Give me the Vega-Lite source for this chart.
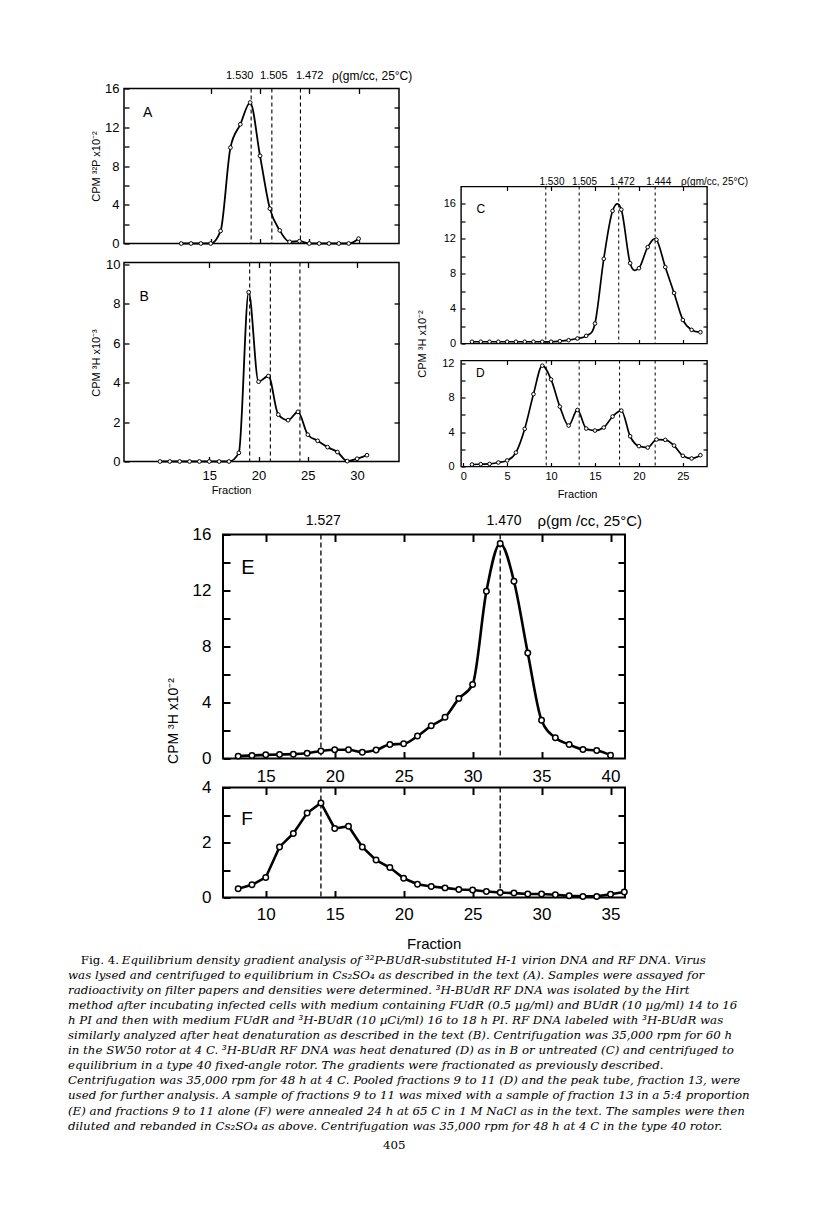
{
  "$schema": "https://vega.github.io/schema/vega-lite/v6.json",
  "autosize": {"type": "pad"},
  "padding": {"left": 68, "top": 68.5, "right": 5, "bottom": 5},
  "background": "white",
  "datasets": {
    "A": [
      {"fraction": 12, "cpm": 0}, {"fraction": 13, "cpm": 0}, {"fraction": 14, "cpm": 0}, {"fraction": 15, "cpm": 0},
      {"fraction": 16, "cpm": 1.3}, {"fraction": 17, "cpm": 9.9}, {"fraction": 18, "cpm": 12.3}, {"fraction": 19, "cpm": 14.55},
      {"fraction": 20, "cpm": 9.05}, {"fraction": 21, "cpm": 3.6}, {"fraction": 22, "cpm": 1.35}, {"fraction": 23, "cpm": 0.17},
      {"fraction": 24, "cpm": 0.24}, {"fraction": 25, "cpm": 0}, {"fraction": 26, "cpm": 0}, {"fraction": 27, "cpm": 0},
      {"fraction": 28, "cpm": 0}, {"fraction": 29, "cpm": 0}, {"fraction": 30, "cpm": 0.5}
    ],
    "B": [
      {"fraction": 10, "cpm": 0}, {"fraction": 11, "cpm": 0}, {"fraction": 12, "cpm": 0}, {"fraction": 13, "cpm": 0},
      {"fraction": 14, "cpm": 0}, {"fraction": 15, "cpm": 0}, {"fraction": 16, "cpm": 0}, {"fraction": 17, "cpm": 0},
      {"fraction": 18, "cpm": 0.44}, {"fraction": 19, "cpm": 8.59}, {"fraction": 20, "cpm": 4.05}, {"fraction": 21, "cpm": 4.34},
      {"fraction": 22, "cpm": 2.38}, {"fraction": 23, "cpm": 2.1}, {"fraction": 24, "cpm": 2.52}, {"fraction": 25, "cpm": 1.36},
      {"fraction": 26, "cpm": 1.05}, {"fraction": 27, "cpm": 0.73}, {"fraction": 28, "cpm": 0.48}, {"fraction": 29, "cpm": 0.02},
      {"fraction": 30, "cpm": 0.14}, {"fraction": 31, "cpm": 0.32}
    ],
    "C": [
      {"fraction": 1, "cpm": 0.2}, {"fraction": 2, "cpm": 0.2}, {"fraction": 3, "cpm": 0.2}, {"fraction": 4, "cpm": 0.2},
      {"fraction": 5, "cpm": 0.2}, {"fraction": 6, "cpm": 0.2}, {"fraction": 7, "cpm": 0.2}, {"fraction": 8, "cpm": 0.2},
      {"fraction": 9, "cpm": 0.2}, {"fraction": 10, "cpm": 0.2}, {"fraction": 11, "cpm": 0.27}, {"fraction": 12, "cpm": 0.38},
      {"fraction": 13, "cpm": 0.57}, {"fraction": 14, "cpm": 0.88}, {"fraction": 15, "cpm": 2.29}, {"fraction": 16, "cpm": 9.71},
      {"fraction": 17, "cpm": 15.2}, {"fraction": 18, "cpm": 15.35}, {"fraction": 19, "cpm": 9.2}, {"fraction": 20, "cpm": 8.63},
      {"fraction": 21, "cpm": 11.05}, {"fraction": 22, "cpm": 11.9}, {"fraction": 23, "cpm": 8.76}, {"fraction": 24, "cpm": 5.79},
      {"fraction": 25, "cpm": 2.7}, {"fraction": 26, "cpm": 1.56}, {"fraction": 27, "cpm": 1.3}
    ],
    "D": [
      {"fraction": 1, "cpm": 0.23}, {"fraction": 2, "cpm": 0.27}, {"fraction": 3, "cpm": 0.3}, {"fraction": 4, "cpm": 0.46},
      {"fraction": 5, "cpm": 0.7}, {"fraction": 6, "cpm": 1.62}, {"fraction": 7, "cpm": 4.36}, {"fraction": 8, "cpm": 8.4},
      {"fraction": 9, "cpm": 11.7}, {"fraction": 10, "cpm": 10.1}, {"fraction": 11, "cpm": 6.95}, {"fraction": 12, "cpm": 4.75},
      {"fraction": 13, "cpm": 6.56}, {"fraction": 14, "cpm": 4.4}, {"fraction": 15, "cpm": 4.17}, {"fraction": 16, "cpm": 4.52},
      {"fraction": 17, "cpm": 5.8}, {"fraction": 18, "cpm": 6.49}, {"fraction": 19, "cpm": 3.51}, {"fraction": 20, "cpm": 2.36},
      {"fraction": 21, "cpm": 2.2}, {"fraction": 22, "cpm": 3.13}, {"fraction": 23, "cpm": 3.09}, {"fraction": 24, "cpm": 2.43},
      {"fraction": 25, "cpm": 1.24}, {"fraction": 26, "cpm": 0.93}, {"fraction": 27, "cpm": 1.31}
    ],
    "E": [
      {"fraction": 13, "cpm": 0.17}, {"fraction": 14, "cpm": 0.22}, {"fraction": 15, "cpm": 0.26}, {"fraction": 16, "cpm": 0.29},
      {"fraction": 17, "cpm": 0.31}, {"fraction": 18, "cpm": 0.38}, {"fraction": 19, "cpm": 0.53}, {"fraction": 20, "cpm": 0.62},
      {"fraction": 21, "cpm": 0.62}, {"fraction": 22, "cpm": 0.45}, {"fraction": 23, "cpm": 0.6}, {"fraction": 24, "cpm": 1.0},
      {"fraction": 25, "cpm": 1.05}, {"fraction": 26, "cpm": 1.6}, {"fraction": 27, "cpm": 2.34}, {"fraction": 28, "cpm": 2.94},
      {"fraction": 29, "cpm": 4.28}, {"fraction": 30, "cpm": 5.29}, {"fraction": 31, "cpm": 11.94}, {"fraction": 32, "cpm": 15.36},
      {"fraction": 33, "cpm": 12.66}, {"fraction": 34, "cpm": 7.54}, {"fraction": 35, "cpm": 2.73}, {"fraction": 36, "cpm": 1.48},
      {"fraction": 37, "cpm": 1.0}, {"fraction": 38, "cpm": 0.65}, {"fraction": 39, "cpm": 0.57}, {"fraction": 40, "cpm": 0.24}
    ],
    "F": [
      {"fraction": 8, "cpm": 0.32}, {"fraction": 9, "cpm": 0.46}, {"fraction": 10, "cpm": 0.73}, {"fraction": 11, "cpm": 1.84},
      {"fraction": 12, "cpm": 2.33}, {"fraction": 13, "cpm": 3.07}, {"fraction": 14, "cpm": 3.44}, {"fraction": 15, "cpm": 2.51},
      {"fraction": 16, "cpm": 2.59}, {"fraction": 17, "cpm": 1.84}, {"fraction": 18, "cpm": 1.36}, {"fraction": 19, "cpm": 1.09},
      {"fraction": 20, "cpm": 0.7}, {"fraction": 21, "cpm": 0.48}, {"fraction": 22, "cpm": 0.4}, {"fraction": 23, "cpm": 0.35},
      {"fraction": 24, "cpm": 0.29}, {"fraction": 25, "cpm": 0.27}, {"fraction": 26, "cpm": 0.22}, {"fraction": 27, "cpm": 0.18},
      {"fraction": 28, "cpm": 0.16}, {"fraction": 29, "cpm": 0.13}, {"fraction": 30, "cpm": 0.13}, {"fraction": 31, "cpm": 0.1},
      {"fraction": 32, "cpm": 0.06}, {"fraction": 33, "cpm": 0.04}, {"fraction": 34, "cpm": 0.04}, {"fraction": 35, "cpm": 0.12},
      {"fraction": 36, "cpm": 0.2}
    ]
  },
  "spacing": 0,
  "vconcat": [
    {
      "spacing": 0,
      "hconcat": [
        {"width": 21, "height": 1, "view": {"stroke": null}, "data": {"values": [{}]}, "mark": {"type": "text", "text": ""}},
        {
          "spacing": 19,
          "bounds": "flush",
          "vconcat": [
            {
              "width": 275, "height": 155,
              "view": {"stroke": "black", "strokeWidth": 1.5},
              "resolve": {"axis": {"x": "independent", "y": "independent"}},
              "layer": [
                {
                  "data": {"values": [{"fraction": 19.1}, {"fraction": 21.2}, {"fraction": 24.1}]},
                  "mark": {"type": "rule", "strokeDash": [4, 3], "strokeWidth": 1.1, "color": "black"},
                  "encoding": {"x": {"field": "fraction", "type": "quantitative", "scale": {"domain": [6.2, 34.1], "nice": false, "zero": false}, "axis": null}}
                },
                {
                  "data": {"name": "A"},
                  "mark": {"type": "line", "interpolate": "monotone", "color": "black", "strokeWidth": 1.8},
                  "encoding": {
                    "x": {"field": "fraction", "type": "quantitative", "scale": {"domain": [6.2, 34.1], "nice": false, "zero": false},
                          "axis": {"orient": "bottom", "values": [15, 20, 25, 30], "labels": false, "tickSize": -5, "tickWidth": 1.3, "title": null}},
                    "y": {"field": "cpm", "type": "quantitative", "scale": {"domain": [0, 16], "nice": false, "zero": false},
                          "axis": {"orient": "left", "values": [0, 2, 4, 6, 8, 10, 12, 14, 16], "labelExpr": "datum.value % 4 === 0 ? datum.label : ''", "tickSize": -5, "tickWidth": 1.3, "labelPadding": 10, "labelFontSize": 13, "title": "CPM ³²P x10⁻²", "titleFontSize": 11, "titleX": -23, "titleY": 77.5}}
                  }
                },
                {
                  "data": {"name": "A"},
                  "mark": {"type": "point", "filled": true, "fill": "white", "stroke": "black", "strokeWidth": 1, "size": 14, "opacity": 1},
                  "encoding": {
                    "x": {"field": "fraction", "type": "quantitative", "scale": {"domain": [6.2, 34.1], "nice": false, "zero": false},
                          "axis": {"orient": "top", "values": [15, 20, 25, 30], "labels": false, "tickSize": -5, "tickWidth": 1.3, "title": null}},
                    "y": {"field": "cpm", "type": "quantitative", "scale": {"domain": [0, 16], "nice": false, "zero": false},
                          "axis": {"orient": "right", "values": [2, 4, 6, 8, 10, 12, 14], "labels": false, "tickSize": -5, "tickWidth": 1.3, "title": null}}
                  }
                },
                {
                  "data": {"values": [{"fraction": 17.94, "label": "1.530"}, {"fraction": 21.4, "label": "1.505"}, {"fraction": 25.04, "label": "1.472"}]},
                  "mark": {"type": "text", "fontSize": 11, "align": "center", "baseline": "middle", "color": "black"},
                  "encoding": {
                    "x": {"field": "fraction", "type": "quantitative", "scale": {"domain": [6.2, 34.1], "nice": false, "zero": false}, "axis": null},
                    "y": {"datum": 17.3, "type": "quantitative", "scale": {"domain": [0, 16], "nice": false, "zero": false}, "axis": null},
                    "text": {"field": "label"}
                  }
                },
                {
                  "data": {"values": [{"fraction": 27.3, "label": "ρ(gm/cc, 25°C)"}]},
                  "mark": {"type": "text", "fontSize": 12, "align": "left", "baseline": "middle", "color": "black"},
                  "encoding": {
                    "x": {"field": "fraction", "type": "quantitative", "scale": {"domain": [6.2, 34.1], "nice": false, "zero": false}, "axis": null},
                    "y": {"datum": 17.3, "type": "quantitative", "scale": {"domain": [0, 16], "nice": false, "zero": false}, "axis": null},
                    "text": {"field": "label"}
                  }
                },
                {
                  "data": {"values": [{"fraction": 8.6, "cpm": 13.5, "label": "A"}]},
                  "mark": {"type": "text", "fontSize": 14, "align": "center", "baseline": "middle", "color": "black"},
                  "encoding": {
                    "x": {"field": "fraction", "type": "quantitative", "scale": {"domain": [6.2, 34.1], "nice": false, "zero": false}, "axis": null},
                    "y": {"field": "cpm", "type": "quantitative", "scale": {"domain": [0, 16], "nice": false, "zero": false}, "axis": null},
                    "text": {"field": "label"}
                  }
                }
              ]
            },
            {
              "width": 275, "height": 199,
              "view": {"stroke": "black", "strokeWidth": 1.5},
              "resolve": {"axis": {"x": "independent", "y": "independent"}},
              "layer": [
                {
                  "data": {"values": [{"fraction": 19.1}, {"fraction": 21.2}, {"fraction": 24.2}]},
                  "mark": {"type": "rule", "strokeDash": [4, 3], "strokeWidth": 1.1, "color": "black"},
                  "encoding": {"x": {"field": "fraction", "type": "quantitative", "scale": {"domain": [6.35, 34.25], "nice": false, "zero": false}, "axis": null}}
                },
                {
                  "data": {"name": "B"},
                  "mark": {"type": "line", "interpolate": "monotone", "color": "black", "strokeWidth": 1.8},
                  "encoding": {
                    "x": {"field": "fraction", "type": "quantitative", "scale": {"domain": [6.35, 34.25], "nice": false, "zero": false},
                          "axis": {"orient": "bottom", "values": [15, 20, 25, 30], "tickSize": -5, "tickWidth": 1.3, "labelPadding": 13, "labelFontSize": 13, "title": "Fraction", "titleFontSize": 11, "titleX": 107, "titleY": 29, "titleBaseline": "middle"}},
                    "y": {"field": "cpm", "type": "quantitative", "scale": {"domain": [0, 10.1], "nice": false, "zero": false},
                          "axis": {"orient": "left", "values": [0, 2, 4, 6, 8, 10], "tickSize": -5, "tickWidth": 1.3, "labelPadding": 9, "labelFontSize": 13, "title": "CPM ³H x10⁻³", "titleFontSize": 11, "titleX": -23, "titleY": 100}}
                  }
                },
                {
                  "data": {"name": "B"},
                  "mark": {"type": "point", "filled": true, "fill": "white", "stroke": "black", "strokeWidth": 1, "size": 14, "opacity": 1},
                  "encoding": {
                    "x": {"field": "fraction", "type": "quantitative", "scale": {"domain": [6.35, 34.25], "nice": false, "zero": false},
                          "axis": {"orient": "top", "values": [15, 20, 25, 30], "labels": false, "tickSize": -5, "tickWidth": 1.3, "title": null}},
                    "y": {"field": "cpm", "type": "quantitative", "scale": {"domain": [0, 10.1], "nice": false, "zero": false},
                          "axis": {"orient": "right", "values": [2, 4, 6, 8], "labels": false, "tickSize": -5, "tickWidth": 1.3, "title": null}}
                  }
                },
                {
                  "data": {"values": [{"fraction": 8.4, "cpm": 8.35, "label": "B"}]},
                  "mark": {"type": "text", "fontSize": 14, "align": "center", "baseline": "middle", "color": "black"},
                  "encoding": {
                    "x": {"field": "fraction", "type": "quantitative", "scale": {"domain": [6.35, 34.25], "nice": false, "zero": false}, "axis": null},
                    "y": {"field": "cpm", "type": "quantitative", "scale": {"domain": [0, 10.1], "nice": false, "zero": false}, "axis": null},
                    "text": {"field": "label"}
                  }
                }
              ]
            }
          ]
        },
        {"width": 0.5, "height": 1, "view": {"stroke": null}, "data": {"values": [{}]}, "mark": {"type": "text", "text": ""}},
        {
          "spacing": 17,
          "bounds": "flush",
          "vconcat": [
            {"width": 1, "height": 81, "view": {"stroke": null}, "data": {"values": [{}]}, "mark": {"type": "text", "text": ""}},
            {
              "width": 246, "height": 157,
              "view": {"stroke": "black", "strokeWidth": 1.4},
              "resolve": {"axis": {"x": "independent", "y": "independent"}},
              "layer": [
                {
                  "data": {"values": [{"fraction": 9.4}, {"fraction": 13.2}, {"fraction": 17.7}, {"fraction": 21.85}]},
                  "mark": {"type": "rule", "strokeDash": [3, 3], "strokeWidth": 1, "color": "black"},
                  "encoding": {"x": {"field": "fraction", "type": "quantitative", "scale": {"domain": [-0.25, 27.75], "nice": false, "zero": false}, "axis": null}}
                },
                {
                  "data": {"name": "C"},
                  "mark": {"type": "line", "interpolate": "cardinal", "color": "black", "strokeWidth": 1.7},
                  "encoding": {
                    "x": {"field": "fraction", "type": "quantitative", "scale": {"domain": [-0.25, 27.75], "nice": false, "zero": false},
                          "axis": {"orient": "bottom", "values": [5, 10, 15, 20, 25], "labels": false, "tickSize": -4, "tickWidth": 1.2, "title": null}},
                    "y": {"field": "cpm", "type": "quantitative", "scale": {"domain": [0, 18], "nice": false, "zero": false},
                          "axis": {"orient": "left", "values": [0, 2, 4, 6, 8, 10, 12, 14, 16], "labelExpr": "datum.value % 4 === 0 ? datum.label : ''", "tickSize": -4, "tickWidth": 1.2, "labelPadding": 9.5, "labelFontSize": 11, "title": "CPM ³H x10⁻²", "titleFontSize": 11, "titleX": -33.5, "titleY": 157}}
                  }
                },
                {
                  "data": {"name": "C"},
                  "mark": {"type": "point", "filled": true, "fill": "white", "stroke": "black", "strokeWidth": 1, "size": 13, "opacity": 1},
                  "encoding": {
                    "x": {"field": "fraction", "type": "quantitative", "scale": {"domain": [-0.25, 27.75], "nice": false, "zero": false},
                          "axis": {"orient": "top", "values": [5, 10, 15, 20, 25], "labels": false, "tickSize": -4, "tickWidth": 1.2, "title": null}},
                    "y": {"field": "cpm", "type": "quantitative", "scale": {"domain": [0, 18], "nice": false, "zero": false},
                          "axis": {"orient": "right", "values": [2, 4, 6, 8, 10, 12, 14, 16], "labels": false, "tickSize": -4, "tickWidth": 1.2, "title": null}}
                  }
                },
                {
                  "data": {"values": [{"fraction": 10.1, "label": "1.530"}, {"fraction": 13.8, "label": "1.505"}, {"fraction": 18.1, "label": "1.472"}, {"fraction": 22.25, "label": "1.444"}]},
                  "mark": {"type": "text", "fontSize": 10, "align": "center", "baseline": "middle", "color": "black"},
                  "encoding": {
                    "x": {"field": "fraction", "type": "quantitative", "scale": {"domain": [-0.25, 27.75], "nice": false, "zero": false}, "axis": null},
                    "y": {"datum": 18.5, "type": "quantitative", "scale": {"domain": [0, 18], "nice": false, "zero": false}, "axis": null},
                    "text": {"field": "label"}
                  }
                },
                {
                  "data": {"values": [{"fraction": 24.8, "label": "ρ(gm/cc, 25°C)"}]},
                  "mark": {"type": "text", "fontSize": 10, "align": "left", "baseline": "middle", "color": "black"},
                  "encoding": {
                    "x": {"field": "fraction", "type": "quantitative", "scale": {"domain": [-0.25, 27.75], "nice": false, "zero": false}, "axis": null},
                    "y": {"datum": 18.5, "type": "quantitative", "scale": {"domain": [0, 18], "nice": false, "zero": false}, "axis": null},
                    "text": {"field": "label"}
                  }
                },
                {
                  "data": {"values": [{"fraction": 2.0, "cpm": 15.4, "label": "C"}]},
                  "mark": {"type": "text", "fontSize": 12, "align": "center", "baseline": "middle", "color": "black"},
                  "encoding": {
                    "x": {"field": "fraction", "type": "quantitative", "scale": {"domain": [-0.25, 27.75], "nice": false, "zero": false}, "axis": null},
                    "y": {"field": "cpm", "type": "quantitative", "scale": {"domain": [0, 18], "nice": false, "zero": false}, "axis": null},
                    "text": {"field": "label"}
                  }
                }
              ]
            },
            {
              "width": 246, "height": 106,
              "view": {"stroke": "black", "strokeWidth": 1.4},
              "resolve": {"axis": {"x": "independent", "y": "independent"}},
              "layer": [
                {
                  "data": {"values": [{"fraction": 9.45}, {"fraction": 13.2}, {"fraction": 17.8}, {"fraction": 21.85}]},
                  "mark": {"type": "rule", "strokeDash": [3, 3], "strokeWidth": 1, "color": "black"},
                  "encoding": {"x": {"field": "fraction", "type": "quantitative", "scale": {"domain": [-0.25, 27.75], "nice": false, "zero": false}, "axis": null}}
                },
                {
                  "data": {"name": "D"},
                  "mark": {"type": "line", "interpolate": "monotone", "color": "black", "strokeWidth": 1.7},
                  "encoding": {
                    "x": {"field": "fraction", "type": "quantitative", "scale": {"domain": [-0.25, 27.75], "nice": false, "zero": false},
                          "axis": {"orient": "bottom", "values": [0, 5, 10, 15, 20, 25], "tickSize": -4, "tickWidth": 1.2, "labelPadding": 8, "labelFontSize": 11, "title": "Fraction", "titleFontSize": 11, "titleX": 116, "titleY": 28, "titleBaseline": "middle"}},
                    "y": {"field": "cpm", "type": "quantitative", "scale": {"domain": [0, 12.3], "nice": false, "zero": false},
                          "axis": {"orient": "left", "values": [0, 2, 4, 6, 8, 10, 12], "labelExpr": "datum.value % 4 === 0 ? datum.label : ''", "tickSize": -4, "tickWidth": 1.2, "labelPadding": 11, "labelFontSize": 11, "title": null}}
                  }
                },
                {
                  "data": {"name": "D"},
                  "mark": {"type": "point", "filled": true, "fill": "white", "stroke": "black", "strokeWidth": 1, "size": 13, "opacity": 1},
                  "encoding": {
                    "x": {"field": "fraction", "type": "quantitative", "scale": {"domain": [-0.25, 27.75], "nice": false, "zero": false},
                          "axis": {"orient": "top", "values": [5, 10, 15, 20, 25], "labels": false, "tickSize": -4, "tickWidth": 1.2, "title": null}},
                    "y": {"field": "cpm", "type": "quantitative", "scale": {"domain": [0, 12.3], "nice": false, "zero": false},
                          "axis": {"orient": "right", "values": [2, 4, 6, 8, 10, 12], "labels": false, "tickSize": -4, "tickWidth": 1.2, "title": null}}
                  }
                },
                {
                  "data": {"values": [{"fraction": 1.96, "cpm": 10.9, "label": "D"}]},
                  "mark": {"type": "text", "fontSize": 12, "align": "center", "baseline": "middle", "color": "black"},
                  "encoding": {
                    "x": {"field": "fraction", "type": "quantitative", "scale": {"domain": [-0.25, 27.75], "nice": false, "zero": false}, "axis": null},
                    "y": {"field": "cpm", "type": "quantitative", "scale": {"domain": [0, 12.3], "nice": false, "zero": false}, "axis": null},
                    "text": {"field": "label"}
                  }
                }
              ]
            }
          ]
        }
      ]
    },
    {"width": 1, "height": 1.5, "view": {"stroke": null}, "data": {"values": [{}]}, "mark": {"type": "text", "text": ""}},
    {
      "spacing": 0,
      "hconcat": [
        {"width": 97, "height": 1, "view": {"stroke": null}, "data": {"values": [{}]}, "mark": {"type": "text", "text": ""}},
        {
          "spacing": 29,
          "bounds": "flush",
          "vconcat": [
            {
              "width": 402, "height": 224,
              "view": {"stroke": "black", "strokeWidth": 2},
              "resolve": {"axis": {"x": "independent", "y": "independent"}},
              "layer": [
                {
                  "data": {"values": [{"fraction": 19}, {"fraction": 32}]},
                  "mark": {"type": "rule", "strokeDash": [5, 3], "strokeWidth": 1.3, "color": "black"},
                  "encoding": {"x": {"field": "fraction", "type": "quantitative", "scale": {"domain": [11.9, 41.05], "nice": false, "zero": false}, "axis": null}}
                },
                {
                  "data": {"name": "E"},
                  "mark": {"type": "line", "interpolate": "monotone", "color": "black", "strokeWidth": 2.6},
                  "encoding": {
                    "x": {"field": "fraction", "type": "quantitative", "scale": {"domain": [11.9, 41.05], "nice": false, "zero": false},
                          "axis": {"orient": "bottom", "values": [15, 20, 25, 30, 35, 40], "tickSize": -7, "tickWidth": 2, "labelPadding": 16.5, "labelFontSize": 17, "title": null}},
                    "y": {"field": "cpm", "type": "quantitative", "scale": {"domain": [0, 16], "nice": false, "zero": false},
                          "axis": {"orient": "left", "values": [0, 2, 4, 6, 8, 10, 12, 14, 16], "labelExpr": "datum.value % 4 === 0 ? datum.label : ''", "tickSize": -7, "tickWidth": 2, "labelPadding": 19, "labelFontSize": 17, "title": "CPM ³H x10⁻²", "titleFontSize": 14, "titleX": -43, "titleY": 186}}
                  }
                },
                {
                  "data": {"name": "E"},
                  "mark": {"type": "point", "filled": true, "fill": "white", "stroke": "black", "strokeWidth": 1.5, "size": 30, "opacity": 1},
                  "encoding": {
                    "x": {"field": "fraction", "type": "quantitative", "scale": {"domain": [11.9, 41.05], "nice": false, "zero": false},
                          "axis": {"orient": "top", "values": [15, 20, 25, 30, 35, 40], "labels": false, "tickSize": -7, "tickWidth": 2, "title": null}},
                    "y": {"field": "cpm", "type": "quantitative", "scale": {"domain": [0, 16], "nice": false, "zero": false},
                          "axis": {"orient": "right", "values": [2, 4, 6, 8, 10, 12, 14], "labels": false, "tickSize": -7, "tickWidth": 2, "title": null}}
                  }
                },
                {
                  "data": {"values": [{"fraction": 19.17, "label": "1.527"}, {"fraction": 32.28, "label": "1.470"}]},
                  "mark": {"type": "text", "fontSize": 14, "align": "center", "baseline": "middle", "color": "black"},
                  "encoding": {
                    "x": {"field": "fraction", "type": "quantitative", "scale": {"domain": [11.9, 41.05], "nice": false, "zero": false}, "axis": null},
                    "y": {"datum": 17.0, "type": "quantitative", "scale": {"domain": [0, 16], "nice": false, "zero": false}, "axis": null},
                    "text": {"field": "label"}
                  }
                },
                {
                  "data": {"values": [{"fraction": 34.7, "label": "ρ(gm /cc, 25°C)"}]},
                  "mark": {"type": "text", "fontSize": 15, "align": "left", "baseline": "middle", "color": "black"},
                  "encoding": {
                    "x": {"field": "fraction", "type": "quantitative", "scale": {"domain": [11.9, 41.05], "nice": false, "zero": false}, "axis": null},
                    "y": {"datum": 17.0, "type": "quantitative", "scale": {"domain": [0, 16], "nice": false, "zero": false}, "axis": null},
                    "text": {"field": "label"}
                  }
                },
                {
                  "data": {"values": [{"fraction": 13.7, "cpm": 13.6, "label": "E"}]},
                  "mark": {"type": "text", "fontSize": 20, "align": "center", "baseline": "middle", "color": "black"},
                  "encoding": {
                    "x": {"field": "fraction", "type": "quantitative", "scale": {"domain": [11.9, 41.05], "nice": false, "zero": false}, "axis": null},
                    "y": {"field": "cpm", "type": "quantitative", "scale": {"domain": [0, 16], "nice": false, "zero": false}, "axis": null},
                    "text": {"field": "label"}
                  }
                }
              ]
            },
            {
              "width": 402, "height": 110,
              "view": {"stroke": "black", "strokeWidth": 2},
              "resolve": {"axis": {"x": "independent", "y": "independent"}},
              "layer": [
                {
                  "data": {"values": [{"fraction": 14}, {"fraction": 27}]},
                  "mark": {"type": "rule", "strokeDash": [5, 3], "strokeWidth": 1.3, "color": "black"},
                  "encoding": {"x": {"field": "fraction", "type": "quantitative", "scale": {"domain": [6.9, 36.05], "nice": false, "zero": false}, "axis": null}}
                },
                {
                  "data": {"name": "F"},
                  "mark": {"type": "line", "interpolate": "linear", "color": "black", "strokeWidth": 2.6},
                  "encoding": {
                    "x": {"field": "fraction", "type": "quantitative", "scale": {"domain": [6.9, 36.05], "nice": false, "zero": false},
                          "axis": {"orient": "bottom", "values": [10, 15, 20, 25, 30, 35], "tickSize": -7, "tickWidth": 2, "labelPadding": 16, "labelFontSize": 17, "title": "Fraction", "titleFontSize": 15, "titleX": 210.7, "titleY": 45.5, "titleBaseline": "middle"}},
                    "y": {"field": "cpm", "type": "quantitative", "scale": {"domain": [0, 4], "nice": false, "zero": false},
                          "axis": {"orient": "left", "values": [0, 1, 2, 3, 4], "labelExpr": "datum.value % 2 === 0 ? datum.label : ''", "tickSize": -7, "tickWidth": 2, "labelPadding": 19, "labelFontSize": 17, "title": null}}
                  }
                },
                {
                  "data": {"name": "F"},
                  "mark": {"type": "point", "filled": true, "fill": "white", "stroke": "black", "strokeWidth": 1.5, "size": 30, "opacity": 1},
                  "encoding": {
                    "x": {"field": "fraction", "type": "quantitative", "scale": {"domain": [6.9, 36.05], "nice": false, "zero": false},
                          "axis": {"orient": "top", "values": [10, 15, 20, 25, 30, 35], "labels": false, "tickSize": -7, "tickWidth": 2, "title": null}},
                    "y": {"field": "cpm", "type": "quantitative", "scale": {"domain": [0, 4], "nice": false, "zero": false},
                          "axis": {"orient": "right", "values": [1, 2, 3], "labels": false, "tickSize": -7, "tickWidth": 2, "title": null}}
                  }
                },
                {
                  "data": {"values": [{"fraction": 8.64, "cpm": 2.87, "label": "F"}]},
                  "mark": {"type": "text", "fontSize": 19, "align": "center", "baseline": "middle", "color": "black"},
                  "encoding": {
                    "x": {"field": "fraction", "type": "quantitative", "scale": {"domain": [6.9, 36.05], "nice": false, "zero": false}, "axis": null},
                    "y": {"field": "cpm", "type": "quantitative", "scale": {"domain": [0, 4], "nice": false, "zero": false}, "axis": null},
                    "text": {"field": "label"}
                  }
                }
              ]
            }
          ]
        }
      ]
    },
    {
      "width": 673, "height": 192,
      "view": {"stroke": null},
      "layer": [
        {
          "data": {"values": [
            {"row": 1, "col": 0.08, "text": "Equilibrium density gradient analysis of ³²P-BUdR-substituted H-1 virion DNA and RF DNA. Virus"},
            {"row": 2, "col": 0, "text": "was lysed and centrifuged to equilibrium in Cs₂SO₄ as described in the text (A). Samples were assayed for"},
            {"row": 3, "col": 0, "text": "radioactivity on filter papers and densities were determined. ³H-BUdR RF DNA was isolated by the Hirt"},
            {"row": 4, "col": 0, "text": "method after incubating infected cells with medium containing FUdR (0.5 µg/ml) and BUdR (10 µg/ml) 14 to 16"},
            {"row": 5, "col": 0, "text": "h PI and then with medium FUdR and ³H-BUdR (10 µCi/ml) 16 to 18 h PI. RF DNA labeled with ³H-BUdR was"},
            {"row": 6, "col": 0, "text": "similarly analyzed after heat denaturation as described in the text (B). Centrifugation was 35,000 rpm for 60 h"},
            {"row": 7, "col": 0, "text": "in the SW50 rotor at 4 C. ³H-BUdR RF DNA was heat denatured (D) as in B or untreated (C) and centrifuged to"},
            {"row": 8, "col": 0, "text": "equilibrium in a type 40 fixed-angle rotor. The gradients were fractionated as previously described."},
            {"row": 9, "col": 0, "text": "Centrifugation was 35,000 rpm for 48 h at 4 C. Pooled fractions 9 to 11 (D) and the peak tube, fraction 13, were"},
            {"row": 10, "col": 0, "text": "used for further analysis. A sample of fractions 9 to 11 was mixed with a sample of fraction 13 in a 5:4 proportion"},
            {"row": 11, "col": 0, "text": "(E) and fractions 9 to 11 alone (F) were annealed 24 h at 65 C in 1 M NaCl as in the text. The samples were then"},
            {"row": 12, "col": 0, "text": "diluted and rebanded in Cs₂SO₄ as above. Centrifugation was 35,000 rpm for 48 h at 4 C in the type 40 rotor."}
          ]},
          "mark": {"type": "text", "align": "left", "baseline": "middle", "font": "DejaVu Serif", "fontStyle": "italic", "fontSize": 11.8, "color": "black"},
          "encoding": {
            "x": {"field": "col", "type": "quantitative", "scale": {"domain": [0, 1], "nice": false, "zero": false}, "axis": null},
            "y": {"field": "row", "type": "quantitative", "scale": {"domain": [0.536, 13.25], "reverse": true, "nice": false, "zero": false}, "axis": null},
            "text": {"field": "text"}
          }
        },
        {
          "data": {"values": [
            {"row": 1, "col": 0.019, "text": "Fig. 4."},
            {"row": 13.25, "col": 0.468, "text": "405"}
          ]},
          "mark": {"type": "text", "align": "left", "baseline": "middle", "font": "DejaVu Serif", "fontSize": 11.8, "color": "black"},
          "encoding": {
            "x": {"field": "col", "type": "quantitative", "scale": {"domain": [0, 1], "nice": false, "zero": false}, "axis": null},
            "y": {"field": "row", "type": "quantitative", "scale": {"domain": [0.536, 13.25], "reverse": true, "nice": false, "zero": false}, "axis": null},
            "text": {"field": "text"}
          }
        }
      ]
    }
  ],
  "config": {
    "font": "Liberation Sans",
    "view": {"stroke": "black"},
    "axis": {"domain": false, "grid": false, "labelFlush": false, "labelOverlap": false, "tickColor": "black", "labelColor": "black", "titleColor": "black", "titleFontWeight": "normal", "labelFont": "Liberation Sans", "titleFont": "Liberation Sans"},
    "text": {"color": "black"}
  }
}
